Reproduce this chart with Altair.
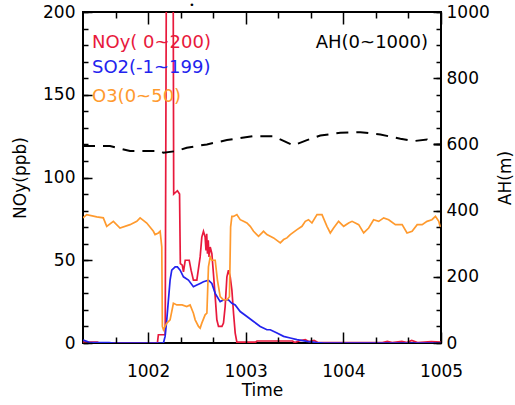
import altair as alt
import pandas as pd

# ---------------- data ----------------
noy_t = [1001.333, 1001.480, 1001.500, 1002.095, 1002.105, 1002.175, 1002.189, 1002.255, 1002.262,
         1002.300, 1002.322, 1002.330, 1002.350, 1002.362, 1002.380, 1002.421, 1002.440, 1002.464,
         1002.499, 1002.533, 1002.550, 1002.567, 1002.584, 1002.593, 1002.600, 1002.608, 1002.616,
         1002.624, 1002.636, 1002.653, 1002.669, 1002.687, 1002.704, 1002.721, 1002.756, 1002.772,
         1002.789, 1002.807, 1002.823, 1002.841, 1002.858, 1002.875, 1002.892, 1002.909, 1003.100,
         1003.115, 1003.480, 1003.500, 1003.560, 1003.610, 1003.650, 1003.700, 1003.740, 1004.400,
         1004.450, 1004.500, 1004.600, 1004.650, 1004.700, 1004.760, 1004.900, 1005.000]
noy_v = [0.5, 0.5, 0.0, 0.0, 5, 5, 260, 260, 90,
         92, 90, 48, 47, 43, 50, 50, 44, 38,
         38, 52, 64, 67.5, 64, 56, 66, 54, 62,
         52, 58, 54, 42, 28, 14, 10, 10, 12,
         22, 40, 44, 40, 32, 18, 6, 0.5, 0.5,
         1.2, 1.2, 0.3, 1.5, 2, 0.8, 1.5, 0.3, 0.3,
         1, 0.2, 1, 0.3, 1.5, 0.3, 0.8, 0.5]

so2_t = [1001.333, 1001.371, 1001.400, 1001.600, 1001.650, 1002.157, 1002.174, 1002.191, 1002.225,
         1002.242, 1002.277, 1002.300, 1002.328, 1002.362, 1002.413, 1002.464, 1002.499, 1002.533,
         1002.567, 1002.618, 1002.653, 1002.687, 1002.738, 1002.772, 1002.823, 1002.858, 1002.892,
         1002.943, 1003.012, 1003.080, 1003.148, 1003.217, 1003.251, 1003.320, 1003.388, 1003.456,
         1003.525, 1003.627, 1003.730, 1003.800, 1005.000]
so2_v = [1.8, 1.0, 0.3, 0.3, 0.0, 0.0, 4, 14, 38,
         44, 46, 46, 44, 40, 38, 34, 35, 36,
         37, 38, 36, 30, 25, 26, 26, 24, 23,
         19, 16, 13, 10, 8, 8, 6, 4, 3,
         2, 1, 0.3, 0.0, 0.0]

o3_t = [1001.333, 1001.371, 1001.474, 1001.541, 1001.576, 1001.644, 1001.712, 1001.815, 1001.884,
        1001.918, 1001.986, 1002.054, 1002.071, 1002.105, 1002.123, 1002.140, 1002.146, 1002.157,
        1002.174, 1002.191, 1002.225, 1002.259, 1002.294, 1002.348, 1002.396, 1002.430, 1002.464,
        1002.482, 1002.516, 1002.533, 1002.550, 1002.584, 1002.602, 1002.618, 1002.636, 1002.653,
        1002.687, 1002.710, 1002.738, 1002.772, 1002.807, 1002.833, 1002.845, 1002.858, 1002.875,
        1002.909, 1002.943, 1002.977, 1003.012, 1003.046, 1003.080, 1003.131, 1003.166, 1003.182,
        1003.217, 1003.251, 1003.285, 1003.354, 1003.388, 1003.422, 1003.456, 1003.525, 1003.576,
        1003.610, 1003.643, 1003.678, 1003.730, 1003.781, 1003.832, 1003.866, 1003.900, 1003.951,
        1004.003, 1004.054, 1004.089, 1004.157, 1004.208, 1004.259, 1004.310, 1004.362, 1004.413,
        1004.464, 1004.533, 1004.602, 1004.652, 1004.704, 1004.756, 1004.807, 1004.857, 1004.907,
        1004.943, 1004.977, 1004.995]
o3_v = [75.6, 77.6, 76.2, 75.6, 70.5, 73.5, 69.5, 71.5, 73.5,
        75.6, 72.5, 67.5, 65.5, 66.5, 67.5, 58, 10, 8,
        10, 12, 14, 24, 23, 23, 22, 23, 18,
        14, 10, 9, 12, 17, 18, 46, 52, 50,
        50, 38, 28, 26, 26, 28, 70, 76.5, 76.5,
        77.6, 74.5, 73.5, 72.5, 70.5, 67.5, 64.5, 66.5, 67.5,
        65.5, 64.5, 63.5, 60.5, 62.5, 63.5, 65.5, 68.5, 70.5,
        73.5, 74.5, 72.5, 77.6, 77.6, 70.5, 66.5, 69.5, 73.5,
        70.5, 72.5, 73.5, 71.5, 66.5, 69.5, 74.5, 73.5, 75.6,
        74.5, 71.5, 71.5, 66.5, 67.5, 71.5, 71.5, 73.5, 74.5,
        76.5, 73.5, 69.5]

ah_t = [1001.333, 1001.610, 1001.815, 1002.123, 1002.157, 1002.294, 1002.396, 1002.602, 1002.807,
        1003.080, 1003.285, 1003.354, 1003.490, 1003.627, 1003.764, 1003.969, 1004.174, 1004.379,
        1004.584, 1004.721, 1004.857, 1004.923, 1004.995]
ah_v = [595, 595, 580, 580, 575, 580, 590, 600, 613,
        625, 625, 615, 597, 613, 627, 635, 637, 630,
        617, 610, 615, 600, 600]

x_major = [1002, 1003, 1004, 1005]
x_minor = [1001.6667, 1002.3333, 1002.6667, 1003.3333, 1003.6667, 1004.3333, 1004.6667]
yl_major = [0, 50, 100, 150, 200]
yl_minor = list(range(0, 201, 10))
yr_major = [0, 200, 400, 600, 800, 1000]
yr_minor = list(range(0, 1001, 50))

labels = ["NOy( 0~200)", "SO2(-1~199)", "O3(0~50)", "AH(0~1000)"]

# ---------------- chart ----------------
W, H = 358, 331
FONT = "DejaVu Sans"
RED, BLUE, ORANGE = "#e8193c", "#2323ee", "#ff9a2e"
X0, X1 = 1001.333, 1005

xs = alt.Scale(domain=[X0, X1], nice=False, zero=False)
yls = alt.Scale(domain=[0, 200], nice=False)
yrs = alt.Scale(domain=[0, 1000], nice=False)

TXT = dict(labelFontSize=17, labelColor="black", titleFontSize=17, titleFontWeight="normal",
           titleColor="black", domain=False, grid=False, tickSize=0)
xaxis = alt.Axis(values=x_major, format="d", title="Time", labelPadding=20, labelFlush=False,
                 titlePadding=3, **TXT)
ylaxis = alt.Axis(values=yl_major, orient="left", format="d", title="NOy(ppb)", labelPadding=8,
                  titlePadding=13, **TXT)
yraxis = alt.Axis(values=yr_major, orient="right", format="d", title="AH(m)", labelPadding=5,
                  titlePadding=25, titleAngle=270, **TXT)

X = dict(scale=xs, axis=xaxis)
YL = dict(scale=yls, axis=ylaxis)
YR = dict(scale=yrs, axis=yraxis)


def series(t, v):
    return pd.DataFrame({"t": t, "v": v})


def line(t, v, color, xspec, yspec, dash=None):
    kw = dict(color=color, strokeWidth=1.7, clip=True)
    if dash:
        kw.update(strokeDash=dash, strokeWidth=2)
    return alt.Chart(series(t, v)).mark_line(**kw).encode(
        x=alt.X("t:Q", **xspec),
        y=alt.Y("v:Q", **yspec),
    )


noy = line(noy_t, noy_v, RED, X, YL)
so2 = line(so2_t, so2_v, BLUE, X, YL)
o3 = line(o3_t, o3_v, ORANGE, X, YL)


def label(i, x, y, color, align="left"):
    return alt.Chart(pd.DataFrame({"s": [labels[i]]})).mark_text(
        font=FONT, fontSize=18, color=color, align=align, baseline="middle"
    ).encode(text="s:N", x=alt.value(x), y=alt.value(y))


lab_noy = label(0, 9, 31, RED)
lab_so2 = label(1, 9, 56, BLUE)
lab_o3 = label(2, 9, 85, ORANGE)
lab_ah = label(3, 345, 31, "black", align="right")

dot = alt.Chart(pd.DataFrame({"s": ["•"]})).mark_text(
    font=FONT, fontSize=9, color="black", align="center", baseline="middle"
).encode(text="s:N", x=alt.value(109), y=alt.value(-7))

left = alt.layer(noy, so2, o3, lab_noy, lab_so2, lab_o3, lab_ah, dot)
right = line(ah_t, ah_v, "black", dict(scale=xs, axis=None), YR, dash=[12, 8])


# inward tick marks: label-less axes shifted inside the frame (negative offset), drawn on top
def tick_axis(values, orient, size):
    return alt.Axis(values=values, orient=orient, offset=-size, tickSize=size, tickWidth=1.5,
                    tickColor="black", labels=False, domain=False, grid=False, title=None,
                    zindex=1)


def tick_layer(t, v, yscale, xvals, xorient, xsize, yvals, yorient, ysize):
    return alt.Chart(series(t, v)).mark_point(opacity=0, size=1).encode(
        x=alt.X("t:Q", scale=xs, axis=tick_axis(xvals, xorient, xsize)),
        y=alt.Y("v:Q", scale=yscale, axis=tick_axis(yvals, yorient, ysize)),
    )


t1 = tick_layer(o3_t, o3_v, yls, x_minor, "bottom", 6, yl_minor, "left", 5)
t2 = tick_layer(o3_t, o3_v, yls, x_major, "bottom", 11, yl_major, "left", 9)
t3 = tick_layer(ah_t, ah_v, yrs, x_minor, "top", 6, yr_minor, "right", 5)
t4 = tick_layer(ah_t, ah_v, yrs, x_major, "top", 12, yr_major, "right", 8)

chart = alt.layer(left, right, t1, t2, t3, t4).resolve_scale(
    x="independent", y="independent"
).properties(
    width=W, height=H,
    autosize=alt.AutoSizeParams(type="none"),
    padding={"left": 83, "top": 12, "right": 74, "bottom": 62},
    background="white",
).configure(font=FONT).configure_view(stroke="black", strokeWidth=2)

chart.save("out.html", embed_options={"renderer": "svg", "actions": False})
